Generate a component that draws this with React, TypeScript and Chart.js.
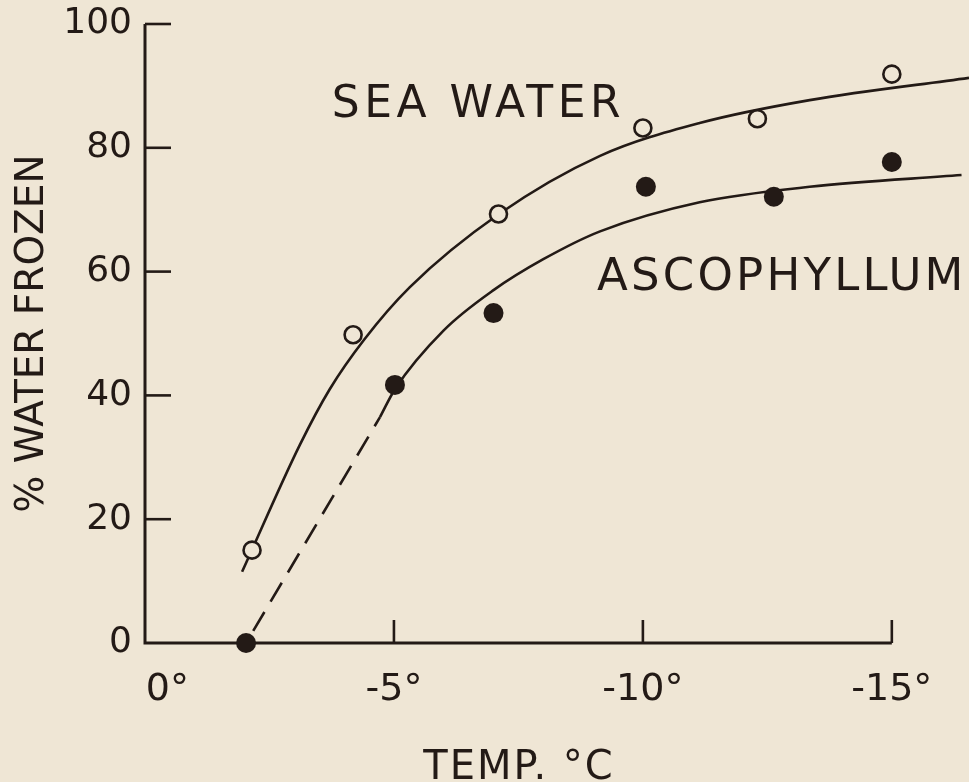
import React, { useEffect, useRef } from 'react';
import { Chart, registerables } from 'chart.js';

Chart.register(...registerables);

// ---- data (temperature shown as degrees below zero) ----
const yTickValues = [0, 20, 40, 60, 80, 100];
const xTickValues = [0, 5, 10, 15];
const xTickLabels = ['0°', '-5°', '-10°', '-15°'];

const seaWaterTemp = [2.15, 4.18, 7.1, 10.0, 12.3, 15.0];
const seaWaterFrozen = [15.0, 49.8, 69.3, 83.2, 84.7, 91.9];

const ascoTemp = [2.03, 5.02, 7.0, 10.06, 12.63, 15.0];
const ascoFrozen = [0, 41.7, 53.3, 73.7, 72.1, 77.7];

// fitted curves
const seaCurveTemp = [1.95, 3.11, 3.71, 4.4, 5.32, 7.11, 9.14, 11.14, 13.35, 16.55];
const seaCurveFrozen = [11.5, 32, 41, 49, 57.5, 69.3, 78.7, 84.0, 87.7, 91.3];

const ascoDashTemp = [2.03, 4.72];
const ascoDashFrozen = [0, 36.5];

const ascoCurveTemp = [4.72, 5.02, 6.0, 7.0, 8.0, 9.14, 11.14, 13.35, 16.4];
const ascoCurveFrozen = [36.5, 41.0, 50.5, 57.0, 62.0, 66.5, 71.2, 73.7, 75.6];

const INK = '#231a16';
const BG = '#efe6d5';
const FONT = '"DejaVu Sans", sans-serif';

const zip = (xs: number[], ys: number[]) => xs.map((x, i) => ({ x, y: ys[i] }));

const paperPlugin = {
  id: 'paper',
  beforeDraw(chart: any) {
    const { ctx, width, height } = chart;
    ctx.save();
    ctx.fillStyle = BG;
    ctx.fillRect(0, 0, width, height);
    ctx.restore();
  },
  beforeDatasetsDraw(chart: any) {
    const { ctx } = chart;
    const xs = chart.scales.x;
    const ys = chart.scales.y;
    const x0 = xs.getPixelForValue(0);
    const xEnd = xs.getPixelForValue(15);
    const y0 = ys.getPixelForValue(0);
    const yTop = ys.getPixelForValue(100);
    ctx.save();
    ctx.strokeStyle = INK;
    ctx.lineWidth = 3;
    ctx.lineCap = 'butt';
    ctx.beginPath();
    ctx.moveTo(x0, yTop);
    ctx.lineTo(x0, y0);
    ctx.lineTo(xEnd, y0);
    ctx.stroke();
    ctx.lineWidth = 2.6;
    yTickValues.forEach((v) => {
      if (v === 0) return;
      const py = ys.getPixelForValue(v);
      ctx.beginPath();
      ctx.moveTo(x0, py);
      ctx.lineTo(x0 + 26, py);
      ctx.stroke();
    });
    xTickValues.forEach((v) => {
      if (v === 0) return;
      const px = xs.getPixelForValue(v);
      ctx.beginPath();
      ctx.moveTo(px, y0);
      ctx.lineTo(px, y0 - 23);
      ctx.stroke();
    });
    ctx.restore();
  },
  afterDraw(chart: any) {
    const { ctx } = chart;
    const xs = chart.scales.x;
    const ys = chart.scales.y;
    ctx.save();
    ctx.fillStyle = INK;
    ctx.textBaseline = 'alphabetic';
    ctx.textAlign = 'left';
    ctx.font = `44px ${FONT}`;
    (ctx as any).letterSpacing = '4.5px';
    ctx.fillText('SEA WATER', xs.getPixelForValue(3.75), ys.getPixelForValue(85));
    ctx.font = `45px ${FONT}`;
    (ctx as any).letterSpacing = '3.2px';
    ctx.fillText('ASCOPHYLLUM', xs.getPixelForValue(9.08), ys.getPixelForValue(57));
    ctx.font = `40px ${FONT}`;
    (ctx as any).letterSpacing = '2px';
    ctx.textAlign = 'center';
    ctx.fillText('TEMP. °C', 519, 779);
    ctx.restore();
  },
};

export default function App() {
  const ref = useRef<HTMLCanvasElement | null>(null);

  useEffect(() => {
    document.body.style.margin = '0';
    document.body.style.background = BG;
    const canvas = ref.current;
    if (!canvas) return;

    const noPad = (s: any) => {
      s.paddingTop = 0;
      s.paddingBottom = 0;
      s.paddingLeft = 0;
      s.paddingRight = 0;
    };

    const chart = new Chart(canvas, {
      type: 'scatter',
      data: {
        datasets: [
          {
            label: 'Sea water',
            data: zip(seaWaterTemp, seaWaterFrozen),
            pointStyle: 'circle',
            pointRadius: 8.5,
            pointBorderWidth: 2.6,
            pointBorderColor: INK,
            pointBackgroundColor: BG,
            showLine: false,
            clip: false,
            order: 0,
          },
          {
            label: 'Ascophyllum',
            data: zip(ascoTemp, ascoFrozen),
            pointStyle: 'circle',
            pointRadius: 10,
            pointBorderWidth: 0,
            pointBackgroundColor: INK,
            showLine: false,
            clip: false,
            order: 0,
          },
          {
            type: 'line',
            label: 'Sea water curve',
            data: zip(seaCurveTemp, seaCurveFrozen),
            borderColor: INK,
            borderWidth: 2.6,
            pointRadius: 0,
            cubicInterpolationMode: 'monotone',
            fill: false,
            clip: false,
            order: 1,
          },
          {
            type: 'line',
            label: 'Ascophyllum curve',
            data: zip(ascoCurveTemp, ascoCurveFrozen),
            borderColor: INK,
            borderWidth: 2.6,
            pointRadius: 0,
            cubicInterpolationMode: 'monotone',
            fill: false,
            clip: false,
            order: 1,
          },
          {
            type: 'line',
            label: 'Ascophyllum extrapolation',
            data: zip(ascoDashTemp, ascoDashFrozen),
            borderColor: INK,
            borderWidth: 2.6,
            borderDash: [22, 12],
            borderDashOffset: -14,
            pointRadius: 0,
            fill: false,
            clip: false,
            order: 1,
          },
        ] as any,
      },
      options: {
        animation: false,
        responsive: false,
        events: [],
        layout: { autoPadding: false, padding: { top: 24, right: 0, left: 0, bottom: 0 } },
        plugins: {
          legend: { display: false },
          tooltip: { enabled: false },
        },
        scales: {
          x: {
            type: 'linear',
            min: 0,
            max: 16.55,
            grid: { display: false, drawTicks: false },
            border: { display: false },
            afterFit: (s: any) => {
              s.height = 139;
              noPad(s);
            },
            afterBuildTicks: (s: any) => {
              // the "0°" label sits a little right of the axis corner
              s.ticks = xTickValues.map((v) => ({ value: v === 0 ? 0.45 : v }));
            },
            ticks: {
              autoSkip: false,
              maxRotation: 0,
              color: INK,
              padding: 24,
              font: { family: FONT, size: 38 },
              callback: (_v: any, i: number) => xTickLabels[i],
            },
          },
          y: {
            type: 'linear',
            min: 0,
            max: 100,
            grid: { display: false, drawTicks: false },
            border: { display: false },
            afterFit: (s: any) => {
              s.width = 145;
              noPad(s);
            },
            afterBuildTicks: (s: any) => {
              s.ticks = yTickValues.map((v) => ({ value: v }));
            },
            ticks: {
              color: INK,
              padding: 13,
              font: { family: FONT, size: 36 },
              callback: (v: any) => String(v),
            },
            title: {
              display: true,
              text: '% WATER FROZEN',
              color: INK,
              font: { family: FONT, size: 39 },
              padding: { top: 9, bottom: 0 },
            },
          },
        },
      },
      plugins: [paperPlugin],
    } as any);

    return () => chart.destroy();
  }, []);

  return (
    <div style={{ width: 969, height: 782 }}>
      <canvas ref={ref} width={969} height={782} style={{ display: 'block' }} />
    </div>
  );
}
